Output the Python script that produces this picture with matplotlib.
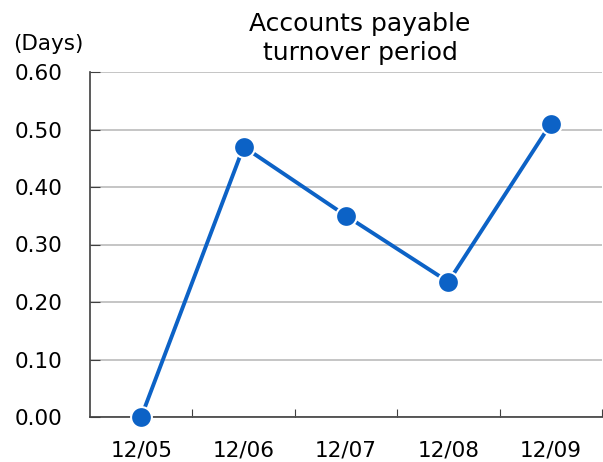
import matplotlib
matplotlib.use("Agg")
import matplotlib.pyplot as plt

categories = ["12/05", "12/06", "12/07", "12/08", "12/09"]
values = [0.00, 0.47, 0.35, 0.235, 0.51]
yticks = [0.0, 0.1, 0.2, 0.3, 0.4, 0.5, 0.6]

fig = plt.figure(figsize=(6.03, 4.62), dpi=100)
ax = fig.add_axes([90/603, 1-417/462, 512/603, 345/462])

x = list(range(len(categories)))
ax.plot(x, values, color="#0c62c6", lw=2.8, marker="o", ms=15,
        markerfacecolor="#0c62c6", markeredgecolor="white", markeredgewidth=1.5,
        zorder=3, clip_on=False)

ax.set_xlim(-0.5, len(categories) - 0.5)
ax.set_ylim(0, 0.6)
ax.set_yticks(yticks)
ax.set_yticklabels([f"{v:.2f}" for v in yticks], fontsize=15.5)
ax.yaxis.grid(True, color="#c0c0c0", lw=1.3)
ax.set_axisbelow(True)

ax.set_xticks([i + 0.5 for i in range(len(categories))])
ax.set_xticklabels([])
ax.set_xticks(x, minor=True)
ax.set_xticklabels(categories, minor=True, fontsize=15.5)
ax.tick_params(axis="x", which="major", direction="in", length=6, color="#404040")
ax.tick_params(axis="x", which="minor", length=0, pad=17)
ax.tick_params(axis="y", direction="in", length=7, color="#404040", pad=20)

for s in ["top", "right"]:
    ax.spines[s].set_visible(False)
for s in ["left", "bottom"]:
    ax.spines[s].set_color("#404040")
    ax.spines[s].set_linewidth(1.2)

fig.text(360/603, 1-38.5/462, "Accounts payable\nturnover period", ha="center", va="center",
         fontsize=18, linespacing=1.3)
fig.text(13/603, 1-44/462, "(Days)", ha="left", va="center", fontsize=15.5)

fig.savefig("out.png", dpi=100)
